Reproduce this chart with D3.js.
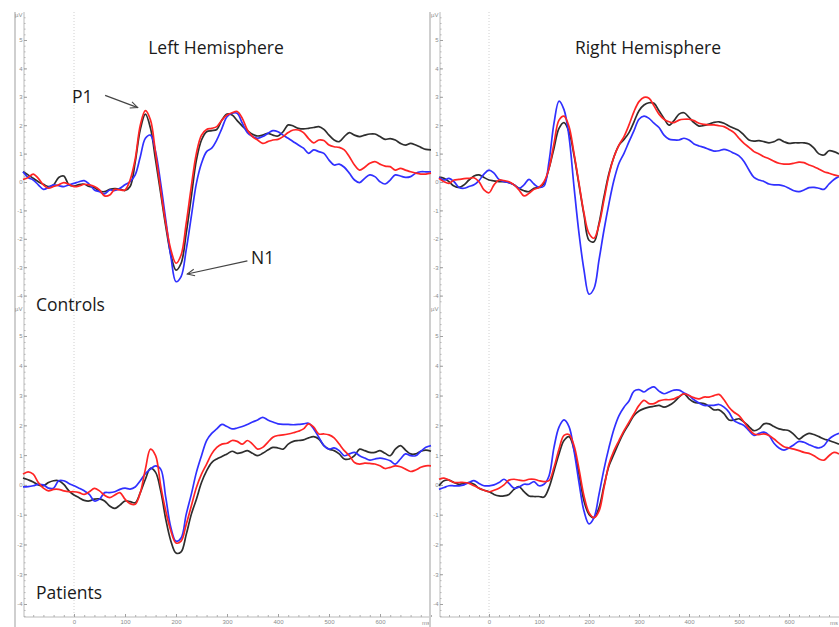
<!DOCTYPE html>
<html>
<head>
<meta charset="utf-8">
<script src="https://cdn.jsdelivr.net/npm/d3@7"></script>
<style>
  body { margin: 0; background: #fff; }
  svg { display: block; }
  .tick text { font-family: "Liberation Sans", Arial, sans-serif; font-size: 6px; fill: #8c8c8c; }
  .unit { font-family: "Liberation Sans", Arial, sans-serif; font-size: 6px; fill: #8c8c8c; }
  .lbl { font-family: "Open Sans", sans-serif; font-size: 17.5px; fill: #1a1a1a; }
</style>
</head>
<body>
<div id="chart"></div>
<script>

// sample times (ms)
var times = [-100, -90, -80, -70, -60, -50, -40, -30, -20, -10,
  0, 10, 20, 30, 40, 50, 60, 70, 80, 90,
  100, 110, 120, 130, 140, 150, 160, 170, 180, 190,
  200, 210, 220, 230, 240, 250, 260, 270, 280, 290,
  300, 310, 320, 330, 340, 350, 360, 370, 380, 390,
  400, 410, 420, 430, 440, 450, 460, 470, 480, 490,
  500, 510, 520, 530, 540, 550, 560, 570, 580, 590,
  600, 610, 620, 630, 640, 650, 660, 670, 680, 690,
  700];

// Controls, left hemisphere (µV)
var ctrlLeftBlack = [0.36, 0.25, 0.13, 0.01, -0.08, -0.16, -0.1, 0.16, 0.21, -0.1,
  -0.14, -0.09, -0.08, -0.16, -0.2, -0.32, -0.34, -0.26, -0.23, -0.25,
  -0.3, -0.16, 0.7, 1.85, 2.39, 1.89, 0.77, -0.4, -1.57, -2.57,
  -3.1, -2.86, -1.81, -0.52, 0.77, 1.48, 1.77, 1.81, 1.85, 2.18,
  2.39, 2.36, 2.16, 1.97, 1.81, 1.68, 1.62, 1.65, 1.71, 1.65,
  1.62, 1.77, 2.01, 1.97, 1.89, 1.87, 1.89, 1.92, 1.95, 1.85,
  1.65, 1.48, 1.42, 1.6, 1.74, 1.65, 1.6, 1.65, 1.69, 1.69,
  1.6, 1.5, 1.53, 1.48, 1.36, 1.3, 1.36, 1.3, 1.22, 1.15,
  1.13];
var ctrlLeftRed = [0.09, 0.16, 0.28, 0.13, -0.1, -0.22, -0.16, -0.1, -0.02, -0.08,
  -0.16, -0.14, -0.08, -0.1, -0.16, -0.28, -0.49, -0.46, -0.26, -0.28,
  -0.28, 0.07, 0.8, 2.0, 2.51, 2.18, 1.01, -0.28, -1.46, -2.39,
  -2.86, -2.57, -1.46, -0.16, 1.01, 1.65, 1.85, 1.89, 1.95, 2.18,
  2.36, 2.44, 2.48, 2.24, 1.83, 1.6, 1.48, 1.36, 1.42, 1.48,
  1.5, 1.6, 1.74, 1.83, 1.83, 1.74, 1.53, 1.38, 1.48, 1.46,
  1.3, 1.24, 1.22, 1.13, 0.89, 0.6, 0.42, 0.52, 0.66, 0.72,
  0.63, 0.56, 0.54, 0.42, 0.48, 0.42, 0.36, 0.31, 0.28, 0.28,
  0.31];
var ctrlLeftBlue = [0.36, 0.16, 0.07, -0.1, -0.26, -0.19, -0.1, -0.13, -0.16, -0.1,
  -0.05, 0.01, 0.05, -0.08, -0.28, -0.34, -0.42, -0.28, -0.3, -0.22,
  -0.1, 0.01, 0.25, 0.89, 1.54, 1.65, 1.07, -0.05, -1.34, -2.63,
  -3.51, -3.33, -2.39, -1.22, -0.05, 0.66, 1.07, 1.19, 1.48, 1.89,
  2.3, 2.42, 2.42, 2.07, 1.74, 1.6, 1.54, 1.6, 1.71, 1.81,
  1.77, 1.65, 1.54, 1.42, 1.3, 1.19, 1.01, 1.13, 1.07, 1.01,
  0.77, 0.6, 0.63, 0.52, 0.31, 0.07, -0.02, 0.13, 0.25, 0.19,
  0.01, -0.07, 0.07, 0.25, 0.21, 0.16, 0.19, 0.31, 0.36, 0.36,
  0.36];

// Controls, right hemisphere
var ctrlRightBlack = [0.16, 0.13, 0.01, -0.14, -0.19, -0.1, 0.07, 0.21, 0.25, 0.16,
  0.07, 0.04, 0.01, 0.01, -0.02, -0.1, -0.22, -0.31, -0.34, -0.22,
  -0.19, -0.05, 0.48, 1.19, 1.89, 2.09, 1.77, 0.95, -0.1, -1.16,
  -2.05, -2.1, -1.46, -0.52, 0.31, 0.89, 1.3, 1.5, 1.74, 2.12,
  2.51, 2.71, 2.79, 2.77, 2.51, 2.24, 2.0, 2.16, 2.39, 2.44,
  2.28, 2.09, 1.97, 1.99, 2.04, 2.1, 2.12, 2.07, 1.97, 1.89,
  1.81, 1.65, 1.48, 1.44, 1.46, 1.42, 1.38, 1.42, 1.5, 1.42,
  1.36, 1.38, 1.38, 1.38, 1.34, 1.19, 0.99, 0.95, 1.1, 1.07,
  0.99];
var ctrlRightRed = [0.13, 0.01, -0.05, 0.07, 0.09, 0.12, 0.13, 0.15, 0.01, -0.28,
  -0.38, -0.1, 0.07, 0.05, 0.01, -0.1, -0.28, -0.49, -0.4, -0.26,
  -0.19, 0.01, 0.48, 1.36, 2.18, 2.32, 1.95, 1.01, -0.05, -1.1,
  -1.81, -1.98, -1.51, -0.63, 0.25, 0.89, 1.3, 1.6, 2.01, 2.48,
  2.83, 2.98, 2.95, 2.68, 2.39, 2.21, 2.12, 2.09, 2.18, 2.21,
  2.21, 2.16, 2.07, 2.03, 2.01, 2.01, 1.98, 1.95, 1.85, 1.74,
  1.54, 1.36, 1.22, 1.07, 0.99, 0.89, 0.82, 0.73, 0.66, 0.63,
  0.63, 0.66, 0.7, 0.68, 0.6, 0.54, 0.45, 0.36, 0.31, 0.25,
  0.21];
var ctrlRightBlue = [0.16, 0.07, 0.13, 0.01, -0.19, -0.22, -0.16, -0.1, 0.05, 0.28,
  0.42, 0.31, 0.09, 0.01, -0.02, -0.1, -0.22, -0.1, 0.09, -0.07,
  -0.19, -0.14, 0.72, 2.07, 2.85, 2.55, 1.6, -0.16, -1.81, -3.1,
  -3.95, -3.75, -2.75, -1.69, -0.75, 0.07, 0.66, 1.01, 1.42, 1.81,
  2.21, 2.32, 2.24, 2.07, 1.92, 1.65, 1.51, 1.48, 1.48, 1.54,
  1.48, 1.34, 1.27, 1.22, 1.15, 1.09, 1.1, 1.15, 1.1, 1.01,
  0.92, 0.72, 0.42, 0.16, 0.07, 0.02, -0.07, -0.1, -0.1, -0.14,
  -0.22, -0.31, -0.34, -0.28, -0.2, -0.19, -0.22, -0.26, -0.07, 0.09,
  0.19];

// Patients, left hemisphere
var patLeftBlack = [0.23, 0.17, 0.1, 0.0, -0.03, 0.08, 0.14, 0.14, 0.02, -0.2,
  -0.34, -0.43, -0.52, -0.54, -0.48, -0.47, -0.54, -0.71, -0.79, -0.68,
  -0.54, -0.56, -0.6, -0.26, 0.19, 0.56, 0.42, -0.2, -1.16, -1.89,
  -2.29, -2.25, -1.67, -0.99, -0.48, 0.08, 0.47, 0.75, 0.87, 0.95,
  1.04, 1.13, 1.06, 1.09, 1.15, 1.06, 0.98, 1.06, 1.17, 1.26,
  1.24, 1.2, 1.37, 1.46, 1.49, 1.51, 1.58, 1.62, 1.54, 1.32,
  1.2, 1.15, 1.04, 0.87, 0.87, 0.98, 1.2, 1.15, 1.09, 1.09,
  1.15, 1.06, 0.98, 1.2, 1.32, 1.17, 1.04, 1.04, 1.13, 1.17,
  1.13];
var patLeftRed = [0.36, 0.44, 0.36, 0.08, -0.11, -0.2, -0.15, -0.15, -0.2, -0.23,
  -0.23, -0.26, -0.32, -0.23, -0.12, -0.2, -0.35, -0.43, -0.34, -0.26,
  -0.48, -0.63, -0.65, -0.26, 0.53, 1.2, 0.98, -0.03, -0.88, -1.55,
  -1.95, -1.89, -1.33, -0.71, -0.09, 0.36, 0.7, 1.04, 1.26, 1.37,
  1.4, 1.49, 1.46, 1.37, 1.49, 1.37, 1.2, 1.26, 1.43, 1.6,
  1.66, 1.68, 1.71, 1.75, 1.8, 1.88, 2.05, 1.94, 1.71, 1.71,
  1.68, 1.58, 1.37, 1.15, 0.98, 0.75, 0.7, 0.73, 0.72, 0.7,
  0.64, 0.55, 0.59, 0.64, 0.61, 0.53, 0.45, 0.5, 0.59, 0.64,
  0.64];
var patLeftBlue = [-0.07, -0.06, -0.03, 0.02, 0.0, -0.11, -0.11, 0.14, 0.14, 0.05,
  -0.03, -0.11, -0.2, -0.32, -0.54, -0.48, -0.26, -0.26, -0.23, -0.15,
  -0.11, -0.14, -0.07, 0.14, 0.38, 0.53, 0.64, 0.53, -0.43, -1.44,
  -1.89, -1.78, -0.99, -0.32, 0.42, 0.98, 1.49, 1.73, 1.88, 2.03,
  1.96, 1.88, 1.91, 1.96, 2.03, 2.11, 2.18, 2.27, 2.18, 2.11,
  2.05, 2.03, 2.03, 2.02, 2.03, 2.05, 2.07, 1.88, 1.6, 1.32,
  1.2, 1.24, 1.15, 0.98, 1.04, 1.09, 0.98, 0.9, 0.83, 0.87,
  0.9, 0.87, 0.81, 0.7, 0.87, 1.04, 0.98, 0.98, 1.13, 1.26,
  1.32];

// Patients, right hemisphere
var patRightBlack = [-0.03, 0.14, 0.16, 0.08, 0.02, 0.05, 0.08, 0.02, -0.11, -0.18,
  -0.23, -0.32, -0.37, -0.37, -0.32, -0.15, -0.06, -0.23, -0.37, -0.39,
  -0.39, -0.41, -0.09, 0.47, 1.04, 1.49, 1.62, 1.2, 0.36, -0.54,
  -0.99, -1.1, -0.77, -0.03, 0.64, 1.04, 1.43, 1.77, 2.05, 2.33,
  2.48, 2.56, 2.61, 2.64, 2.67, 2.61, 2.67, 2.78, 2.95, 3.06,
  2.89, 2.78, 2.75, 2.73, 2.64, 2.52, 2.52, 2.39, 2.18, 2.18,
  2.22, 2.11, 1.96, 1.82, 1.88, 2.05, 2.05, 1.96, 1.88, 1.85,
  1.82, 1.69, 1.54, 1.65, 1.73, 1.69, 1.62, 1.54, 1.49, 1.43,
  1.37];
var patRightRed = [0.19, 0.23, 0.16, 0.08, 0.08, 0.08, 0.05, -0.03, -0.11, -0.18,
  -0.23, -0.18, -0.11, 0.0, 0.16, 0.19, 0.16, 0.14, 0.19, 0.19,
  0.14, 0.11, 0.14, 0.59, 1.2, 1.66, 1.69, 1.32, 0.53, -0.37,
  -0.93, -1.1, -0.88, -0.09, 0.7, 1.15, 1.49, 1.82, 2.11, 2.39,
  2.67, 2.84, 2.73, 2.73, 2.82, 2.86, 2.86, 2.89, 2.97, 3.06,
  3.0, 2.93, 2.89, 2.95, 2.95, 3.0, 3.04, 2.86, 2.61, 2.44,
  2.33, 2.11, 1.88, 1.71, 1.69, 1.71, 1.66, 1.54, 1.4, 1.28,
  1.24, 1.2, 1.15, 1.09, 1.06, 0.98, 0.87, 0.83, 0.98, 1.09,
  1.04];
var patRightBlue = [-0.15, -0.09, -0.03, -0.03, -0.03, 0.0, 0.08, 0.14, 0.05, -0.03,
  -0.03, 0.0, 0.08, 0.19, 0.05, -0.11, -0.07, 0.02, 0.02, 0.11,
  -0.03, 0.02, 0.3, 1.26, 1.94, 2.18, 1.96, 1.15, 0.08, -0.88,
  -1.31, -1.1, -0.32, 0.53, 1.26, 1.88, 2.33, 2.61, 2.82, 3.15,
  3.2, 3.12, 3.23, 3.29, 3.15, 3.06, 3.12, 3.18, 3.18, 3.09,
  3.0, 2.86, 2.75, 2.67, 2.67, 2.67, 2.7, 2.61, 2.44, 2.16,
  2.07, 1.99, 1.82, 1.66, 1.73, 1.77, 1.66, 1.4, 1.24, 1.17,
  1.24, 1.35, 1.46, 1.43, 1.35, 1.28, 1.24, 1.32, 1.54, 1.66,
  1.73];

// axis ticks
var yMajor = [-4, -3, -2, -1, 0, 1, 2, 3, 4, 5];
var xMajor = [0, 100, 200, 300, 400, 500, 600];

var titles = ["Left Hemisphere", "Right Hemisphere"];
var groups = ["Controls", "Patients"];
var colors = {black: "#2e2e2e", red: "#ff2424", blue: "#3030ff"};

var W = 839, H = 627;
var svg = d3.select("#chart").append("svg")
    .attr("width", W)
    .attr("height", H);

svg.append("defs").append("marker")
    .attr("id", "arrow")
    .attr("viewBox", "-1 -5 11 10")
    .attr("refX", 9).attr("refY", 0)
    .attr("markerWidth", 9).attr("markerHeight", 9)
    .attr("markerUnits", "userSpaceOnUse")
    .attr("orient", "auto")
  .append("path")
    .attr("d", "M0,-4L9,0L0,4")
    .attr("fill", "none")
    .attr("stroke", "#444")
    .attr("stroke-width", 1.2);

// columns = hemispheres, rows = groups
var cols = [
  {border: 15, x0: 23, x1: 431, title: titles[0], tx: 216},
  {border: 430, x0: 439, x1: 839, title: titles[1], tx: 648}
];
var rows = [
  {top: 12, bottom: 305, y0: 295.6, y1: 40, label: groups[0], ly: 305},
  {top: 306, bottom: 617, y0: 604, y1: 336, label: groups[1], ly: 593}
];

var panels = [
  {c: 0, r: 0, series: [["black", ctrlLeftBlack], ["blue", ctrlLeftBlue], ["red", ctrlLeftRed]]},
  {c: 1, r: 0, series: [["black", ctrlRightBlack], ["blue", ctrlRightBlue], ["red", ctrlRightRed]]},
  {c: 0, r: 1, series: [["black", patLeftBlack], ["blue", patLeftBlue], ["red", patLeftRed]]},
  {c: 1, r: 1, series: [["black", patRightBlack], ["blue", patRightBlue], ["red", patRightRed]]}
];

var xs = cols.map(function(c) {
  return d3.scaleLinear().domain([-100, 700]).range([c.x0, c.x1]);
});
var ys = rows.map(function(r) {
  return d3.scaleLinear().domain([-4, 5]).range([r.y0, r.y1]);
});

// frame per column
cols.forEach(function(c, i) {
  var x = xs[i];
  var g = svg.append("g");

  g.append("line")
      .attr("x1", c.border).attr("x2", c.border)
      .attr("y1", 12).attr("y2", H)
      .attr("stroke", "#cfcfcf").attr("stroke-width", 2);

  g.append("line")
      .attr("x1", x(0)).attr("x2", x(0))
      .attr("y1", 12).attr("y2", 617)
      .attr("stroke", "#c4c4c4").attr("stroke-width", 0.8)
      .attr("stroke-dasharray", "1,2");

  g.append("line")
      .attr("x1", c.x0 + 1).attr("x2", c.x0 + 1)
      .attr("y1", 12).attr("y2", 617)
      .attr("stroke", "#a8a8a8").attr("stroke-width", 0.8);

  g.append("line")
      .attr("x1", c.x0 + 1).attr("x2", c.x1)
      .attr("y1", 617).attr("y2", 617)
      .attr("stroke", "#a8a8a8").attr("stroke-width", 0.8);

  // minor x ticks
  g.append("g")
      .attr("transform", "translate(0,617)")
      .call(d3.axisBottom(x)
        .tickValues(d3.range(-80, 701, 20))
        .tickSizeInner(-2).tickSizeOuter(0)
        .tickFormat(""))
      .call(function(a) { a.select(".domain").remove(); })
      .selectAll("line").attr("stroke", "#b0b0b0");

  g.append("g")
      .attr("transform", "translate(0,617)")
      .call(d3.axisBottom(x)
        .tickValues(xMajor)
        .tickSizeInner(-3).tickSizeOuter(0).tickPadding(3)
        .tickFormat(function(d) { return String(d); }))
      .call(function(a) { a.select(".domain").remove(); })
      .selectAll("line").attr("stroke", "#a0a0a0");

  g.append("text")
      .attr("class", "unit")
      .attr("x", c.x1 - 1).attr("y", 625)
      .attr("text-anchor", "end")
      .text("ms");

  svg.append("text")
      .attr("class", "lbl")
      .attr("x", c.tx).attr("y", 48)
      .attr("dy", "0.35em")
      .attr("text-anchor", "middle")
      .text(c.title);
});

// y axes per panel
panels.forEach(function(p) {
  var c = cols[p.c], r = rows[p.r];
  var y = ys[p.r];
  var ax = svg.append("g").attr("transform", "translate(" + (c.x0 + 1) + ",0)");

  ax.append("g")
      .call(d3.axisLeft(y)
        .tickValues(d3.range(-4.4, 5.9, 0.2).filter(function(v) { return y(v) > r.top + 2 && y(v) < r.bottom; }))
        .tickSizeInner(-1.5).tickSizeOuter(0)
        .tickFormat(""))
      .call(function(a) { a.select(".domain").remove(); })
      .selectAll("line").attr("stroke", "#b4b4b4");

  ax.append("g")
      .call(d3.axisLeft(y)
        .tickValues(yMajor)
        .tickSizeInner(-3).tickSizeOuter(0).tickPadding(1.5)
        .tickFormat(function(d) { return String(d); }))
      .call(function(a) { a.select(".domain").remove(); })
      .selectAll("line").attr("stroke", "#a0a0a0");

  ax.append("text")
      .attr("class", "unit")
      .attr("x", -1.5).attr("y", r.top + 5)
      .attr("text-anchor", "end")
      .text("µV");

  var x = xs[p.c];
  var line = d3.line()
      .curve(d3.curveCatmullRom.alpha(0.5))
      .x(function(d, i) { return x(times[i]); })
      .y(function(d) { return y(d); });

  svg.append("g")
    .selectAll("path")
    .data(p.series)
    .enter().append("path")
      .attr("d", function(d) { return line(d[1]); })
      .attr("fill", "none")
      .attr("stroke", function(d) { return colors[d[0]]; })
      .attr("stroke-width", 1.7)
      .attr("stroke-linejoin", "round");
});

// group labels
rows.forEach(function(r) {
  svg.append("text")
      .attr("class", "lbl")
      .attr("x", 36).attr("y", r.ly)
      .attr("dy", "0.35em")
      .text(r.label);
});

// P1 / N1 annotations (in ms / µV of the controls-left panel)
var notes = [
  {text: "P1", at: [-4, 3.0], from: [61, 3.05], to: [125, 2.62]},
  {text: "N1", at: [347, -2.68], from: [340, -2.78], to: [222, -3.24]}
];
var nx = xs[0], ny = ys[0];
notes.forEach(function(n) {
  svg.append("text")
      .attr("class", "lbl")
      .attr("x", nx(n.at[0])).attr("y", ny(n.at[1]))
      .attr("dy", "0.35em")
      .text(n.text);
  svg.append("line")
      .attr("x1", nx(n.from[0])).attr("y1", ny(n.from[1]))
      .attr("x2", nx(n.to[0])).attr("y2", ny(n.to[1]))
      .attr("stroke", "#444").attr("stroke-width", 1.2)
      .attr("marker-end", "url(#arrow)");
});

</script>
</body>
</html>
